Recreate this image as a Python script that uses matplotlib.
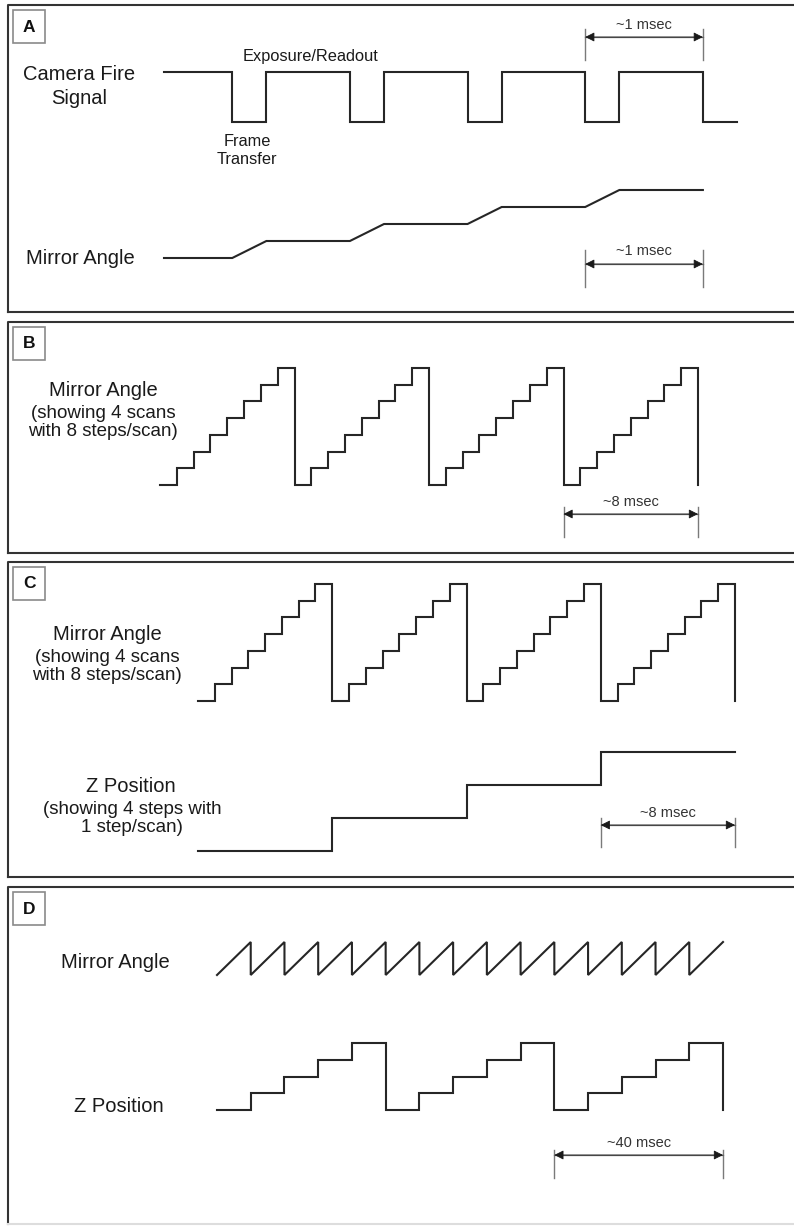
import numpy as np
import matplotlib.pyplot as plt
from matplotlib.patches import Rectangle
from matplotlib.transforms import blended_transform_factory

plt.rcParams['font.family'] = ['Liberation Sans', 'DejaVu Sans']

# ---- panel A: one frame per msec ----
fire_t = [-0.58, 0, 0.29, 1, 1.29, 2, 2.29, 3, 3.29, 4, 4.29]
fire_level = [1, 0, 1, 0, 1, 0, 1, 0, 1, 0, 0]
mirror_a_t = [-0.58, 0, 0.29, 1, 1.29, 2, 2.29, 3, 3.29, 4]
mirror_a_angle = [0, 0, 1, 1, 2, 2, 3, 3, 4, 4]

# ---- panels B and C: 4 scans x 8 steps, 1 msec per step ----
stair_t = np.arange(0, 33)
stair_level = [0, 1, 2, 3, 4, 5, 6, 7,
               0, 1, 2, 3, 4, 5, 6, 7,
               0, 1, 2, 3, 4, 5, 6, 7,
               0, 1, 2, 3, 4, 5, 6, 7,
               0]
z_c_t = [0, 8, 16, 24, 32]
z_c_level = [0, 1, 2, 3, 3]

# ---- panel D: 15 mirror scans, 5 z steps per volume ----
saw_t = [0, 8, 8, 16, 16, 24, 24, 32, 32, 40, 40, 48, 48, 56, 56, 64,
         64, 72, 72, 80, 80, 88, 88, 96, 96, 104, 104, 112, 112, 120]
saw_level = [0, 1, 0, 1, 0, 1, 0, 1, 0, 1, 0, 1, 0, 1, 0,
             1, 0, 1, 0, 1, 0, 1, 0, 1, 0, 1, 0, 1, 0, 1]
z_d_t = [0, 8, 16, 24, 32, 40, 48, 56, 64, 72, 80, 88, 96, 104, 112, 120]
z_d_level = [0, 1, 2, 3, 4, 0, 1, 2, 3, 4, 0, 1, 2, 3, 4, 0]

# time spans marked with dimension arrows (start, end, label)
span_a = (3, 4, "~1 msec")
span_b = (24, 32, "~8 msec")
span_c = (24, 32, "~8 msec")
span_d = (80, 120, "~40 msec")

W, H = 794, 1226
fig = plt.figure(figsize=(W / 100, H / 100), dpi=100)
canvas = fig.add_axes([0, 0, 1, 1])
canvas.set_xlim(0, W)
canvas.set_ylim(H, 0)
canvas.axis('off')

INK = '#262626'
TRACE = dict(color=INK, lw=1.5, clip_on=False, solid_joinstyle='miter')


def trace_axes(left, right, low, high, tlim, vlim):
    # invisible axes whose data range maps onto a pixel box of the figure
    ax = fig.add_axes([left / W, 1 - low / H, (right - left) / W, (low - high) / H])
    ax.set_xlim(*tlim)
    ax.set_ylim(*vlim)
    ax.axis('off')
    return ax


def panel(top, bottom, letter, bottom_color='#333333'):
    canvas.plot([8, 8, 797], [bottom, top, top], color='#333333', lw=1.5)
    canvas.plot([8, 797], [bottom, bottom], color=bottom_color, lw=1.5)
    canvas.add_patch(Rectangle((13, top + 5), 32, 33, fill=False, ec='#8a8a8a', lw=1.2))
    canvas.text(29, top + 22, letter, ha='center', va='center',
                fontsize=12.5, fontweight='bold', color='#111111')


def dimension(ax, span, y_arrow, y_top, y_bot, y_text):
    t0, t1, label = span
    tr = blended_transform_factory(ax.transData, canvas.transData)
    for t in (t0, t1):
        canvas.plot([t, t], [y_top, y_bot], color='#7a7a7a', lw=1.0, transform=tr)
    canvas.plot([t0, t1], [y_arrow, y_arrow], color='#666666', lw=0.9, transform=tr)
    canvas.annotate('', xy=(t1, y_arrow), xytext=(t0, y_arrow),
                    xycoords=tr, textcoords=tr,
                    arrowprops=dict(arrowstyle='<|-|>', color='#1a1a1a', lw=0.6,
                                    mutation_scale=14, shrinkA=0, shrinkB=0))
    canvas.text((t0 + t1) / 2, y_text, label, transform=tr, ha='center', va='center',
                fontsize=10.5, color='#333333')


def label(x, y, s, size=14.5):
    canvas.text(x, y, s, ha='center', va='center', fontsize=size, color='#1a1a1a')


# ---------------- A ----------------
panel(5, 312, 'A')
ax_fire = trace_axes(164, 737, 122, 72, (-0.58, 4.29), (0, 1))
ax_fire.step(fire_t, fire_level, where='post', **TRACE)
ax_mir_a = trace_axes(164, 737, 258, 190, (-0.58, 4.29), (0, 4))
ax_mir_a.plot(mirror_a_t, mirror_a_angle, **TRACE)
label(79, 75, "Camera Fire")
label(79, 98, "Signal")
label(80, 258, "Mirror Angle")
label(311, 57, "Exposure/Readout", 11.8)
label(247, 142, "Frame", 11.8)
label(247, 159, "Transfer", 11.8)
dimension(ax_fire, span_a, 37, 29, 60, 25)
dimension(ax_mir_a, span_a, 264, 250, 287, 251)

# ---------------- B ----------------
panel(322, 553, 'B')
ax_b = trace_axes(160, 698, 485, 368, (0, 32), (0, 7))
ax_b.step(stair_t, stair_level, where='post', **TRACE)
label(103, 391, "Mirror Angle")
label(103, 413, "(showing 4 scans", 13.5)
label(103, 432, "with 8 steps/scan)", 13.5)
dimension(ax_b, span_b, 514, 507, 537, 502)

# ---------------- C ----------------
panel(562, 877, 'C')
ax_c = trace_axes(198, 735, 701, 584, (0, 32), (0, 7))
ax_c.step(stair_t, stair_level, where='post', **TRACE)
ax_cz = trace_axes(198, 735, 851, 752, (0, 32), (0, 3))
ax_cz.step(z_c_t, z_c_level, where='post', **TRACE)
label(107, 635, "Mirror Angle")
label(107, 657, "(showing 4 scans", 13.5)
label(107, 675, "with 8 steps/scan)", 13.5)
label(131, 786, "Z Position")
label(132, 810, "(showing 4 steps with", 13.5)
label(132, 828, "1 step/scan)", 13.5)
dimension(ax_cz, span_c, 825, 818, 847, 813)

# ---------------- D ----------------
panel(887, 1224, 'D', bottom_color='#dddddd')
ax_d = trace_axes(217, 723, 975, 942, (0, 120), (0, 1))
ax_d.plot(saw_t, saw_level, **TRACE)
ax_dz = trace_axes(217, 723, 1110, 1043, (0, 120), (0, 4))
ax_dz.step(z_d_t, z_d_level, where='post', **TRACE)
label(115, 963, "Mirror Angle")
label(119, 1107, "Z Position")
dimension(ax_dz, span_d, 1155, 1150, 1178, 1143)

fig.savefig("out.png", dpi=100)
